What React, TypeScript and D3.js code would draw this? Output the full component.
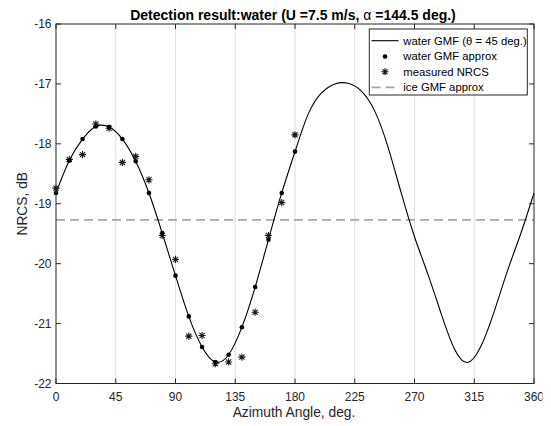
import React from "react";
import * as d3 from "d3";

// Water GMF curve (theta = 45 deg), sampled every 10 degrees
const curveAngles = d3.range(0, 361, 10);
const curveValues = [
  -18.82, -18.28, -17.92, -17.71, -17.72, -17.92, -18.29, -18.82, -19.49, -20.2,
  -20.88, -21.39, -21.64, -21.52, -21.06, -20.39, -19.6, -18.82, -18.13, -17.5,
  -17.15, -17.0, -16.99, -17.12, -17.45, -18.05, -18.82, -19.55, -20.17, -20.83,
  -21.42, -21.65, -21.38, -20.8, -20.12, -19.5, -18.82,
];

// Water GMF approximation (dots)
const approxAngles = d3.range(0, 181, 10);
const approxValues = [
  -18.82, -18.28, -17.92, -17.71, -17.72, -17.92, -18.29, -18.82, -19.49, -20.2,
  -20.88, -21.39, -21.64, -21.52, -21.06, -20.39, -19.6, -18.82, -18.13,
];

// Measured NRCS (stars)
const measuredAngles = d3.range(0, 181, 10);
const measuredValues = [
  -18.74, -18.26, -18.18, -17.67, -17.74, -18.31, -18.21, -18.6, -19.53, -19.93,
  -21.21, -21.2, -21.67, -21.64, -21.56, -20.81, -19.53, -18.98, -17.85,
];

// Ice GMF approximation (constant level)
const iceLevel = -19.27;

const xTicks = [0, 45, 90, 135, 180, 225, 270, 315, 360];
const yTicks = [-22, -21, -20, -19, -18, -17, -16];

const legendLabels = ["water GMF (", "water GMF approx", "measured NRCS", "ice GMF approx"];

const W = 551;
const H = 426;
const L = 56;
const R = 534;
const T = 24;
const B = 383.5;
const FONT = "'Liberation Sans', Arial, Helvetica, sans-serif";
const AX = "#262626";

function starPath(cx: number, cy: number, s: number) {
  const d = s * 0.72;
  return `M${cx - s},${cy}H${cx + s}M${cx},${cy - s}V${cy + s}M${cx - d},${cy - d}L${cx + d},${cy + d}M${cx - d},${cy + d}L${cx + d},${cy - d}`;
}

export default function App() {
  const x = d3.scaleLinear().domain([0, 360]).range([L, R]);
  const y = d3.scaleLinear().domain([-22, -16]).range([B, T]);

  const line = d3
    .line<number>()
    .x((_, i) => x(curveAngles[i]))
    .y((d) => y(d))
    .curve(d3.curveNatural);

  const tickLen = 5;
  const lx = 371.5;
  const legY = [40.7, 56.5, 71.7, 87.3];

  return (
    <svg
      width={W}
      height={H}
      style={{ position: "absolute", left: 0, top: 0, background: "#fff" }}
      fontFamily={FONT}
    >
      <defs>
        <clipPath id="figclip">
          <rect x={0} y={0} width={542.5} height={H} />
        </clipPath>
      </defs>
      <rect x={0} y={0} width={W} height={H} fill="#fff" />
      <rect x={L} y={T} width={R - L} height={B - T} fill="#fff" />
      {/* vertical grid */}
      {xTicks.slice(1, -1).map((t) => (
        <line key={"g" + t} x1={x(t)} x2={x(t)} y1={T} y2={B} stroke="#dfdfdf" strokeWidth={1} />
      ))}
      {/* ice dashed line */}
      <line
        x1={L}
        x2={R}
        y1={y(iceLevel)}
        y2={y(iceLevel)}
        stroke="#a6a6a6"
        strokeWidth={1.8}
        strokeDasharray="9,5"
      />
      {/* GMF curve */}
      <path d={line(curveValues) || ""} fill="none" stroke="#000" strokeWidth={1.1} />
      {/* measured stars */}
      {measuredValues.map((v, i) => (
        <path
          key={"s" + i}
          d={starPath(x(measuredAngles[i]), y(v), 3.6)}
          stroke="#1a1a1a"
          strokeWidth={1.1}
          fill="none"
        />
      ))}
      {/* approx dots */}
      {approxValues.map((v, i) => (
        <circle key={"d" + i} cx={x(approxAngles[i])} cy={y(v)} r={2.3} fill="#000" />
      ))}
      {/* axes box */}
      <rect x={L} y={T} width={R - L} height={B - T} fill="none" stroke={AX} strokeWidth={1} />
      {/* x ticks */}
      <g clipPath="url(#figclip)">
        {xTicks.map((t) => (
          <g key={"xt" + t}>
            <line x1={x(t)} x2={x(t)} y1={B} y2={B - tickLen} stroke={AX} />
            <line x1={x(t)} x2={x(t)} y1={T} y2={T + tickLen} stroke={AX} />
            <text x={x(t)} y={400.5} textAnchor="middle" fontSize={12} fill={AX}>
              {t}
            </text>
          </g>
        ))}
      </g>
      {/* y ticks */}
      {yTicks.map((t) => (
        <g key={"yt" + t}>
          <line x1={L} x2={L + tickLen} y1={y(t)} y2={y(t)} stroke={AX} />
          <line x1={R} x2={R - tickLen} y1={y(t)} y2={y(t)} stroke={AX} />
          <text x={51.5} y={y(t)} dy="0.35em" textAnchor="end" fontSize={12} fill={AX}>
            {t}
          </text>
        </g>
      ))}
      {/* axis labels */}
      <text x={(L + R) / 2 - 1} y={417} textAnchor="middle" fontSize={13.8} fill={AX}>
        Azimuth Angle, deg.
      </text>
      <text
        transform={`translate(27,${(T + B) / 2}) rotate(-90)`}
        textAnchor="middle"
        fontSize={13.8}
        fill={AX}
      >
        NRCS, dB
      </text>
      {/* title */}
      <text x={(L + R) / 2 - 2} y={19.5} textAnchor="middle" fontSize={14} fontWeight="bold" fill="#000">
        Detection result:water (U =7.5 m/s, <tspan fontWeight="normal">α</tspan> =144.5 deg.)
      </text>
      {/* legend */}
      <rect x={369.3} y={29} width={158} height={66} fill="#fff" stroke={AX} strokeWidth={1} />
      <line x1={lx} x2={lx + 27} y1={legY[0]} y2={legY[0]} stroke="#000" strokeWidth={1.1} />
      <circle cx={lx + 13.5} cy={legY[1]} r={2.3} fill="#000" />
      <path d={starPath(lx + 13.5, legY[2], 3.6)} stroke="#1a1a1a" strokeWidth={1.1} fill="none" />
      <line
        x1={lx}
        x2={lx + 27}
        y1={legY[3]}
        y2={legY[3]}
        stroke="#a6a6a6"
        strokeWidth={1.8}
        strokeDasharray="9,5"
      />
      {legendLabels.map((s, i) => (
        <text key={"lg" + i} x={403.3} y={legY[i]} dy="0.35em" fontSize={11.3} fill="#000">
          {s}
          {i === 0 ? (
            <>
              <tspan fontStyle="normal">θ</tspan> = 45 deg.)
            </>
          ) : null}
        </text>
      ))}
    </svg>
  );
}
